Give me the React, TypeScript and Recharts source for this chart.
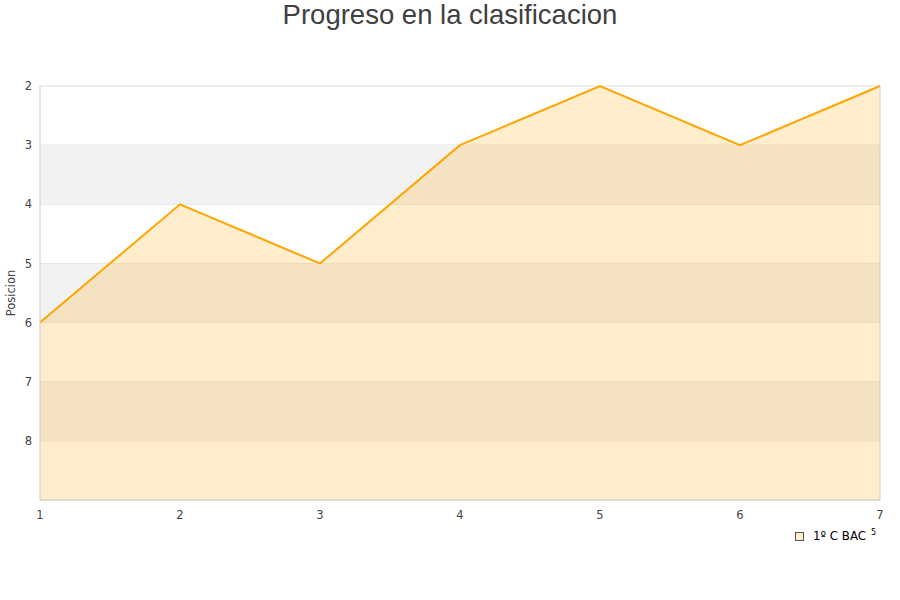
import {
  ComposedChart,
  Area,
  XAxis,
  YAxis,
  CartesianGrid,
  ReferenceArea,
  ReferenceLine,
  Label,
} from "recharts";

const jornadas = [1, 2, 3, 4, 5, 6, 7];
const posiciones = [6, 4, 5, 3, 2, 3, 2];
const yTicks = [2, 3, 4, 5, 6, 7, 8];
const bandas = [
  [3, 4],
  [5, 6],
  [7, 8],
];
const serie = "1º C BAC";

const rows = jornadas.map((j, i) => ({ j, pos: posiciones[i] }));

const ORANGE = "#ffa500";
const AXIS = "#cccccc";
const TICK = { fill: "#444", fontSize: 11.5, fontFamily: "DejaVu Sans" };

function LegendBox() {
  return (
    <div
      style={{
        position: "absolute",
        left: 795,
        top: 529,
        display: "flex",
        alignItems: "center",
        fontFamily: "DejaVu Sans",
        fontSize: 11.8,
        color: "#000",
      }}
    >
      <span
        style={{
          width: 7,
          height: 7,
          background: "#ffedcc",
          border: "1px solid #555",
          marginRight: 9,
        }}
      />
      <span>{serie}</span>
      <span style={{ fontSize: 8, marginLeft: 5, position: "relative", top: -4 }}>5</span>
    </div>
  );
}

export default function App() {
  return (
    <div
      style={{
        position: "absolute",
        left: 0,
        top: 0,
        width: 900,
        height: 600,
        background: "#fff",
      }}
    >
      <div
        style={{
          position: "absolute",
          top: 0,
          left: 0,
          width: 900,
          textAlign: "center",
          fontFamily: "Liberation Sans",
          fontSize: 27.5,
          lineHeight: "30px",
          color: "#404040",
        }}
      >
        Progreso en la clasificacion
      </div>
      <ComposedChart
        width={900}
        height={600}
        data={rows}
        margin={{ top: 86, right: 20, bottom: 70, left: 0 }}
      >
        {bandas.map(([a, b]) => (
          <ReferenceArea
            key={a}
            y1={a}
            y2={b}
            fill="#f2f2f2"
            fillOpacity={1}
            stroke="none"
          />
        ))}
        <CartesianGrid vertical={false} stroke="#dedede" />
        <XAxis
          dataKey="j"
          type="number"
          domain={[1, 7]}
          ticks={jornadas}
          tickLine={false}
          tickMargin={5}
          axisLine={{ stroke: AXIS }}
          tick={TICK}
        />
        <YAxis
          type="number"
          domain={[2, 9]}
          reversed
          ticks={yTicks}
          width={40}
          tickLine={false}
          axisLine={{ stroke: AXIS }}
          tick={TICK}
        >
          <Label
            content={(p: any) => {
              const vb = p.viewBox || {};
              const cx = 11;
              const cy = (vb.y ?? 86) + (vb.height ?? 414) / 2;
              return (
                <text
                  x={cx}
                  y={cy}
                  transform={`rotate(-90 ${cx} ${cy})`}
                  textAnchor="middle"
                  dominantBaseline="central"
                  fill="#444"
                  fontSize={11.5}
                  fontFamily="DejaVu Sans"
                >
                  Posicion
                </text>
              );
            }}
          />
        </YAxis>
        <ReferenceLine x={7} stroke={AXIS} />
        <Area
          type="linear"
          dataKey="pos"
          name={serie}
          baseValue="dataMax"
          stroke={ORANGE}
          strokeWidth={2}
          fill={ORANGE}
          fillOpacity={0.2}
          dot={false}
          activeDot={false}
          isAnimationActive={false}
        />
      </ComposedChart>
      <LegendBox />
    </div>
  );
}
